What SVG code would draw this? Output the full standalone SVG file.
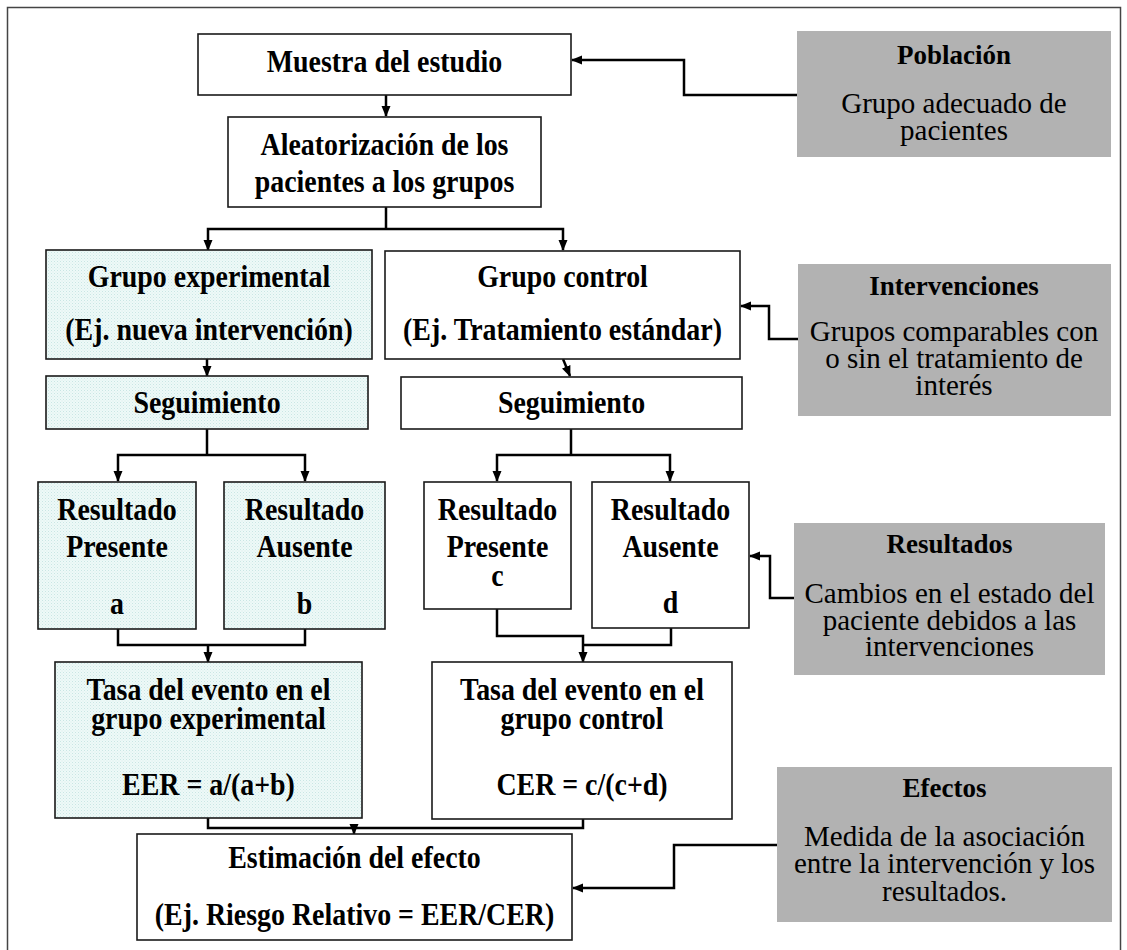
<svg xmlns="http://www.w3.org/2000/svg" width="1127" height="950" viewBox="0 0 1127 950">
<style>
.box{fill:#fff;stroke:#1a1a1a;stroke-width:1.6}
.exp{fill:url(#dots);stroke:#1a1a1a;stroke-width:1.6}
.gray{fill:#b2b2b2;stroke:none}
.b{font-family:"Liberation Serif","Times New Roman",serif;font-weight:bold;font-size:31px;fill:#000;text-anchor:middle}
.r{font-family:"Liberation Serif","Times New Roman",serif;font-size:29px;fill:#000;text-anchor:middle}
.rb{font-family:"Liberation Serif","Times New Roman",serif;font-weight:bold;font-size:27px;fill:#000;text-anchor:middle}
.c{fill:none;stroke:#000;stroke-width:2.5}
.frame{fill:none;stroke:#444;stroke-width:1.5}
</style>
<defs>
<pattern id="dots" width="3" height="3" patternUnits="userSpaceOnUse">
<rect width="3" height="3" fill="#eef9f8"/>
<rect width="1" height="1" fill="#c9e6e3"/>
<rect x="1.5" y="1.5" width="1" height="1" fill="#d6eeeb"/>
</pattern>
<marker id="ah" markerWidth="11" markerHeight="10" refX="10" refY="5" orient="auto" markerUnits="userSpaceOnUse">
<path d="M0,0.5 L11,5 L0,9.5 Z" fill="#000"/>
</marker>
</defs>
<rect width="1127" height="950" fill="#fff"/>
<rect class="frame" x="7.5" y="7.5" width="1113" height="960"/>

<g id="connectors">
<path class="c" d="M386,95 V116" marker-end="url(#ah)"/>
<path class="c" d="M797,95 H684 V60 H572" marker-end="url(#ah)"/>
<path class="c" d="M386,207 V229"/>
<path class="c" d="M386,229 H208 V250" marker-end="url(#ah)"/>
<path class="c" d="M386,229 H563 V250" marker-end="url(#ah)"/>
<path class="c" d="M798,339 H769 V306 H741" marker-end="url(#ah)"/>
<path class="c" d="M207,359 V376" marker-end="url(#ah)"/>
<path class="c" d="M563,359 L570,376" marker-end="url(#ah)"/>
<path class="c" d="M207,429 V455"/>
<path class="c" d="M207,455 H118 V481" marker-end="url(#ah)"/>
<path class="c" d="M207,455 H305 V481" marker-end="url(#ah)"/>
<path class="c" d="M571,429 V455"/>
<path class="c" d="M571,455 H497 V481" marker-end="url(#ah)"/>
<path class="c" d="M571,455 H670 V481" marker-end="url(#ah)"/>
<path class="c" d="M794,598 H770 V556 H750" marker-end="url(#ah)"/>
<path class="c" d="M118,629 V645 H305 V629"/>
<path class="c" d="M208,645 V662" marker-end="url(#ah)"/>
<path class="c" d="M497,609 V636 H583 V662" marker-end="url(#ah)"/>
<path class="c" d="M671,628 V645 H583"/>
<path class="c" d="M208,818 V828 H583 V819"/>
<path class="c" d="M354,828 V834" marker-end="url(#ah)"/>
<path class="c" d="M777,845 H674 V888 H573" marker-end="url(#ah)"/>
</g>

<g id="muestra">
<rect class="box" x="198" y="34" width="373" height="61"/>
<text class="b" transform="translate(384.5,72) scale(0.9,1)">Muestra del estudio</text>
</g>
<g id="poblacion">
<rect class="gray" x="797" y="31" width="314" height="126"/>
<text class="rb" x="954" y="64">Población</text>
<text class="r" x="954" y="113">Grupo adecuado de</text>
<text class="r" x="954" y="140">pacientes</text>
</g>
<g id="aleatorizacion">
<rect class="box" x="228" y="117" width="313" height="90"/>
<text class="b" transform="translate(384.5,155) scale(0.9,1)">Aleatorización de los</text>
<text class="b" transform="translate(384.5,192) scale(0.9,1)">pacientes a los grupos</text>
</g>
<g id="grupo-experimental">
<rect class="exp" x="46" y="250" width="326" height="109"/>
<text class="b" transform="translate(209,287) scale(0.9,1)">Grupo experimental</text>
<text class="b" transform="translate(209,340) scale(0.9,1)">(Ej. nueva intervención)</text>
</g>
<g id="grupo-control">
<rect class="box" x="385" y="251" width="355" height="108"/>
<text class="b" transform="translate(562.5,287) scale(0.9,1)">Grupo control</text>
<text class="b" transform="translate(562.5,340) scale(0.9,1)">(Ej. Tratamiento estándar)</text>
</g>
<g id="intervenciones">
<rect class="gray" x="798" y="264" width="313" height="152"/>
<text class="rb" x="954" y="295">Intervenciones</text>
<text class="r" x="954" y="341">Grupos comparables con</text>
<text class="r" x="954" y="368">o sin el tratamiento de</text>
<text class="r" x="954" y="395">interés</text>
</g>
<g id="seguimiento-exp">
<rect class="exp" x="46" y="376" width="322" height="53"/>
<text class="b" transform="translate(207,413) scale(0.9,1)">Seguimiento</text>
</g>
<g id="seguimiento-ctrl">
<rect class="box" x="401" y="377" width="341" height="52"/>
<text class="b" transform="translate(571.5,413) scale(0.9,1)">Seguimiento</text>
</g>
<g id="resultado-a">
<rect class="exp" x="38" y="482" width="158" height="147"/>
<text class="b" transform="translate(117,520) scale(0.9,1)">Resultado</text>
<text class="b" transform="translate(117,557) scale(0.9,1)">Presente</text>
<text class="b" transform="translate(117,614) scale(0.9,1)">a</text>
</g>
<g id="resultado-b">
<rect class="exp" x="224" y="482" width="161" height="147"/>
<text class="b" transform="translate(304.5,520) scale(0.9,1)">Resultado</text>
<text class="b" transform="translate(304.5,557) scale(0.9,1)">Ausente</text>
<text class="b" transform="translate(304.5,614) scale(0.9,1)">b</text>
</g>
<g id="resultado-c">
<rect class="box" x="424" y="482" width="147" height="127"/>
<text class="b" transform="translate(497.5,520) scale(0.9,1)">Resultado</text>
<text class="b" transform="translate(497.5,557) scale(0.9,1)">Presente</text>
<text class="b" transform="translate(497.5,586) scale(0.9,1)">c</text>
</g>
<g id="resultado-d">
<rect class="box" x="592" y="482" width="157" height="146"/>
<text class="b" transform="translate(670.5,520) scale(0.9,1)">Resultado</text>
<text class="b" transform="translate(670.5,557) scale(0.9,1)">Ausente</text>
<text class="b" transform="translate(670.5,613) scale(0.9,1)">d</text>
</g>
<g id="resultados">
<rect class="gray" x="794" y="523" width="311" height="152"/>
<text class="rb" x="949.5" y="553">Resultados</text>
<text class="r" x="949.5" y="603">Cambios en el estado del</text>
<text class="r" x="949.5" y="630">paciente debidos a las</text>
<text class="r" x="949.5" y="656">intervenciones</text>
</g>
<g id="tasa-exp">
<rect class="exp" x="55" y="662" width="307" height="156"/>
<text class="b" transform="translate(208.5,700) scale(0.9,1)">Tasa del evento en el</text>
<text class="b" transform="translate(208.5,729) scale(0.9,1)">grupo experimental</text>
<text class="b" transform="translate(208.5,795) scale(0.9,1)">EER = a/(a+b)</text>
</g>
<g id="tasa-ctrl">
<rect class="box" x="432" y="662" width="300" height="157"/>
<text class="b" transform="translate(582,700) scale(0.9,1)">Tasa del evento en el</text>
<text class="b" transform="translate(582,729) scale(0.9,1)">grupo control</text>
<text class="b" transform="translate(582,795) scale(0.9,1)">CER = c/(c+d)</text>
</g>
<g id="estimacion">
<rect class="box" x="137" y="834" width="435" height="106"/>
<text class="b" transform="translate(354.5,868) scale(0.9,1)">Estimación del efecto</text>
<text class="b" transform="translate(354.5,925) scale(0.9,1)">(Ej. Riesgo Relativo = EER/CER)</text>
</g>
<g id="efectos">
<rect class="gray" x="777" y="767" width="335" height="155"/>
<text class="rb" x="944.5" y="797">Efectos</text>
<text class="r" x="944.5" y="846">Medida de la asociación</text>
<text class="r" x="944.5" y="873">entre la intervención y los</text>
<text class="r" x="944.5" y="901">resultados.</text>
</g>
</svg>
